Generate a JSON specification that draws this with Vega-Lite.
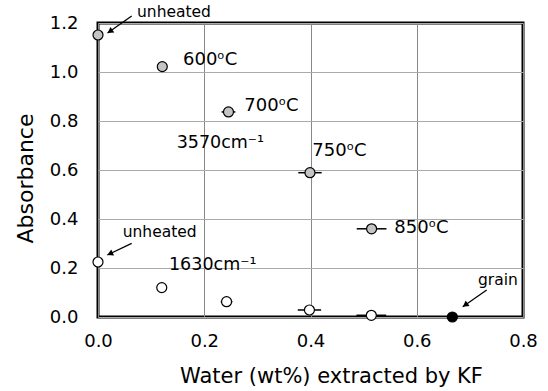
{
  "$schema": "https://vega.github.io/schema/vega-lite/v6.json",
  "width": 425,
  "height": 294,
  "autosize": {"type": "none"},
  "padding": {"left": 98, "top": 23, "right": 25, "bottom": 74},
  "background": "white",
  "config": {
    "view": {"stroke": "black", "strokeWidth": 3},
    "font": "DejaVu Sans",
    "axis": {
      "domain": false,
      "ticks": false,
      "labelFont": "DejaVu Sans",
      "labelFontSize": 18,
      "labelColor": "black",
      "labelFlush": false,
      "titleFont": "DejaVu Sans",
      "titleFontWeight": "normal",
      "titleColor": "black",
      "gridWidth": 1,
      "gridOpacity": 1
    }
  },
  "datasets": {
    "pts": [
      {"x": 0, "y": 1.151, "s": "3570"},
      {"x": 0.121, "y": 1.022, "s": "3570"},
      {"x": 0.2456, "y": 0.837, "s": "3570", "xlo": 0.2326, "xhi": 0.2586},
      {"x": 0.399, "y": 0.589, "s": "3570", "xlo": 0.377, "xhi": 0.421},
      {"x": 0.515, "y": 0.36, "s": "3570", "xlo": 0.487, "xhi": 0.543},
      {"x": 0, "y": 0.2245, "s": "1630"},
      {"x": 0.12, "y": 0.12, "s": "1630"},
      {"x": 0.242, "y": 0.0624, "s": "1630", "xlo": 0.231, "xhi": 0.253},
      {"x": 0.398, "y": 0.0286, "s": "1630", "xlo": 0.376, "xhi": 0.42},
      {"x": 0.5145, "y": 0.007, "s": "1630", "xlo": 0.4865, "xhi": 0.5425},
      {"x": 0.667, "y": 0.0, "s": "grain"}
    ],
    "labels": [
      {"x": 0.0734, "y": 1.2265, "t": "unheated", "k": "note"},
      {"x": 0.0465, "y": 0.3278, "t": "unheated", "k": "note"},
      {"x": 0.7153, "y": 0.1306, "t": "grain", "k": "note"},
      {"x": 0.16, "y": 1.0286, "t": "600ᵒC", "k": "temp"},
      {"x": 0.2754, "y": 0.842, "t": "700ᵒC", "k": "temp"},
      {"x": 0.4034, "y": 0.657, "t": "750ᵒC", "k": "temp"},
      {"x": 0.5577, "y": 0.344, "t": "850ᵒC", "k": "temp"},
      {"x": 0.148, "y": 0.6886, "t": "3570cm⁻¹", "k": "cm"},
      {"x": 0.1336, "y": 0.192, "t": "1630cm⁻¹", "k": "cm"}
    ],
    "arrows": [
      {"a": "top", "x": 0.0634, "y": 1.2286, "x2": 0.0179, "y2": 1.159, "hx": 0.0226, "hy": 1.166},
      {"a": "low", "x": 0.0634, "y": 0.3008, "x2": 0.0175, "y2": 0.253, "hx": 0.0226, "hy": 0.258},
      {"a": "grain", "x": 0.7317, "y": 0.1102, "x2": 0.6865, "y2": 0.042, "hx": 0.6912, "hy": 0.049}
    ]
  },
  "layer": [
    {
      "data": {"name": "pts"},
      "transform": [{"filter": "isValid(datum.xlo)"}],
      "mark": {"type": "rule", "color": "black", "strokeWidth": 1.5},
      "encoding": {
        "x": {
          "field": "xlo", "type": "quantitative",
          "scale": {"domain": [0, 0.8], "nice": false, "zero": false},
          "axis": {
            "values": [0, 0.2, 0.4, 0.6, 0.8], "format": ".1f",
            "labelPadding": 15, "gridColor": "#888888",
            "title": "Water (wt%) extracted by KF", "titleFontSize": 21,
            "titleX": 233, "titleY": 65, "titleBaseline": "alphabetic", "titleAlign": "center"
          }
        },
        "x2": {"field": "xhi"},
        "y": {
          "field": "y", "type": "quantitative",
          "scale": {"domain": [0, 1.2], "nice": false, "zero": false},
          "axis": {
            "values": [0, 0.2, 0.4, 0.6, 0.8, 1.0, 1.2], "format": ".1f",
            "labelPadding": 20, "gridColor": "#aaaaaa",
            "title": "Absorbance", "titleFontSize": 22,
            "titleX": -66, "titleY": 155, "titleBaseline": "alphabetic", "titleAlign": "center", "titleAngle": -90
          }
        }
      }
    },
    {
      "data": {"name": "arrows"},
      "mark": {"type": "rule", "color": "black", "strokeWidth": 1.3},
      "encoding": {
        "x": {"field": "x", "type": "quantitative"},
        "y": {"field": "y", "type": "quantitative"},
        "x2": {"field": "x2"},
        "y2": {"field": "y2"}
      }
    },
    {
      "data": {"name": "arrows"},
      "transform": [{"filter": "datum.a !== 'low'"}],
      "mark": {"type": "point", "shape": "triangle-up", "filled": true, "color": "black", "opacity": 1, "size": 45, "angle": 235},
      "encoding": {
        "x": {"field": "hx", "type": "quantitative"},
        "y": {"field": "hy", "type": "quantitative"}
      }
    },
    {
      "data": {"name": "arrows"},
      "transform": [{"filter": "datum.a === 'low'"}],
      "mark": {"type": "point", "shape": "triangle-up", "filled": true, "color": "black", "opacity": 1, "size": 45, "angle": 245},
      "encoding": {
        "x": {"field": "hx", "type": "quantitative"},
        "y": {"field": "hy", "type": "quantitative"}
      }
    },
    {
      "data": {"name": "pts"},
      "mark": {"type": "point", "shape": "circle", "filled": true, "stroke": "black", "strokeWidth": 1.2, "opacity": 1, "size": 100},
      "encoding": {
        "x": {"field": "x", "type": "quantitative"},
        "y": {"field": "y", "type": "quantitative"},
        "fill": {
          "field": "s", "type": "nominal", "legend": null,
          "scale": {"domain": ["3570", "1630", "grain"], "range": ["#c4c4c4", "#ffffff", "#000000"]}
        }
      }
    },
    {
      "data": {"name": "labels"},
      "transform": [{"filter": "datum.k === 'note'"}],
      "mark": {"type": "text", "align": "left", "baseline": "alphabetic", "fontSize": 15.5, "font": "DejaVu Sans", "color": "black"},
      "encoding": {
        "x": {"field": "x", "type": "quantitative"},
        "y": {"field": "y", "type": "quantitative"},
        "text": {"field": "t"}
      }
    },
    {
      "data": {"name": "labels"},
      "transform": [{"filter": "datum.k === 'temp'"}],
      "mark": {"type": "text", "align": "left", "baseline": "alphabetic", "fontSize": 18, "font": "DejaVu Sans", "color": "black"},
      "encoding": {
        "x": {"field": "x", "type": "quantitative"},
        "y": {"field": "y", "type": "quantitative"},
        "text": {"field": "t"}
      }
    },
    {
      "data": {"name": "labels"},
      "transform": [{"filter": "datum.k === 'cm'"}],
      "mark": {"type": "text", "align": "left", "baseline": "alphabetic", "fontSize": 17.5, "font": "DejaVu Sans", "color": "black"},
      "encoding": {
        "x": {"field": "x", "type": "quantitative"},
        "y": {"field": "y", "type": "quantitative"},
        "text": {"field": "t"}
      }
    }
  ]
}
